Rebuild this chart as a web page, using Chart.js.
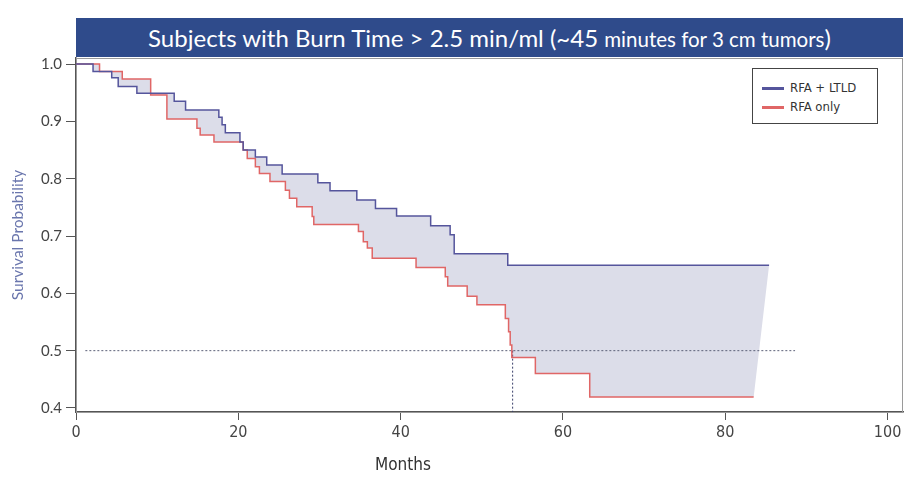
<!DOCTYPE html>
<html>
<head>
<meta charset="utf-8">
<script src="https://cdn.jsdelivr.net/npm/chart.js@4/dist/chart.umd.min.js"></script>
<style>
  html, body { margin:0; padding:0; background:#fff; }
  #wrap { position:relative; width:906px; height:480px; overflow:hidden; }
  #title { position:absolute; left:76px; top:18px; width:827px; height:39px; background:#2f4b8b;
           color:#fff; font-family:Lato, "Open Sans", sans-serif; text-align:center; line-height:39px;
           white-space:nowrap; font-size:24px; }
  #title .small { font-size:20.5px; }
  #legend { position:absolute; left:752px; top:68px; width:124px; height:54px; border:1px solid #444;
            background:#fff; font-family:"Liberation Sans Narrow","DejaVu Sans Condensed",sans-serif;
            font-size:13px; color:#333; }
  .row { position:absolute; left:9px; height:14px; line-height:14px; }
  .sw { display:inline-block; width:22px; height:2.5px; vertical-align:middle; margin-right:6px; }
  #xtitle { position:absolute; left:353px; top:454px; width:100px; text-align:center;
            font-family:"Liberation Sans Narrow","DejaVu Sans Condensed",sans-serif; font-size:17px; color:#333; }
</style>
</head>
<body>
<div id="wrap">
  <canvas id="c" width="906" height="480"></canvas>
  <div id="title">Subjects with Burn Time &gt; 2.5 min/ml (~45 <span class="small">minutes for 3 cm tumors</span>)</div>
  <div id="legend">
    <div class="row" style="top:12px"><span class="sw" style="background:#55559c"></span>RFA + LTLD</div>
    <div class="row" style="top:31px"><span class="sw" style="background:#e06666"></span>RFA only</div>
  </div>
  <div id="xtitle">Months</div>
</div>
<script>
// ---- data ----
const monthsLTLD = [0, 2.1, 4.4, 5.2, 7.5, 12.1, 13.5, 17.6, 18.0, 18.4, 20.2, 20.6, 22.1, 23.5, 25.4, 29.8, 31.3, 34.6, 36.9, 39.5, 43.7, 46.1, 46.6, 53.2, 85.4];
const survLTLD   = [1.0, 0.987, 0.976, 0.961, 0.949, 0.935, 0.920, 0.907, 0.894, 0.880, 0.864, 0.850, 0.838, 0.824, 0.808, 0.793, 0.779, 0.763, 0.748, 0.735, 0.718, 0.702, 0.669, 0.649, 0.649];
const monthsRFA  = [0, 2.9, 5.7, 9.2, 11.2, 14.9, 15.3, 17.0, 20.6, 21.1, 22.1, 22.6, 23.9, 25.8, 26.3, 27.2, 29.1, 29.3, 34.8, 35.4, 35.9, 36.5, 41.9, 45.5, 45.8, 48.2, 49.4, 52.9, 53.3, 53.5, 53.7, 56.6, 63.3, 83.5];
const survRFA    = [1.0, 0.987, 0.974, 0.946, 0.904, 0.888, 0.876, 0.864, 0.850, 0.835, 0.821, 0.809, 0.795, 0.780, 0.766, 0.751, 0.734, 0.720, 0.708, 0.690, 0.679, 0.661, 0.645, 0.629, 0.613, 0.595, 0.580, 0.556, 0.533, 0.510, 0.488, 0.460, 0.419, 0.419];
const halfLineX  = [1.15, 88.6];
const halfLineY  = [0.5, 0.5];
const medianX    = [53.8, 53.8];
const medianY    = [0.5, 0.393];
const xTicks     = [0, 20, 40, 60, 80, 100];
const yTicks     = [0.4, 0.5, 0.6, 0.7, 0.8, 0.9, 1.0];
const seriesNames = ['RFA + LTLD', 'RFA only'];

const pts = (xs, ys) => xs.map((x, i) => ({x: x, y: ys[i]}));
// expand a Kaplan-Meier step curve into its corner points
const corners = (xs, ys) => {
  const out = [];
  xs.forEach((x, i) => { if (i > 0) out.push({x: x, y: ys[i - 1]}); out.push({x: x, y: ys[i]}); });
  return out;
};
// shaded band: LTLD curve forward, RFA curve back, closed shape
const band = corners(monthsLTLD, survLTLD).concat(corners(monthsRFA, survRFA).reverse());

const narrow = '"Liberation Sans Narrow","DejaVu Sans Condensed",sans-serif';

const framePlugin = {
  id: 'frame',
  beforeDatasetsDraw(chart) {
    const a = chart.chartArea, ctx = chart.ctx;
    ctx.save();
    ctx.strokeStyle = '#9a9a9a';
    ctx.lineWidth = 1;
    ctx.strokeRect(a.left + 0.5, a.top + 0.5, a.right - a.left - 1, a.bottom - a.top);
    ctx.restore();
  }
};

new Chart(document.getElementById('c'), {
  type: 'line',
  data: {
    datasets: [
      { label: seriesNames[0], data: pts(monthsLTLD, survLTLD), stepped: true, borderColor: '#55559c',
        borderWidth: 1.5, pointRadius: 0, fill: false },
      { label: seriesNames[1], data: pts(monthsRFA, survRFA), stepped: true, borderColor: '#e06666',
        borderWidth: 1.5, pointRadius: 0, fill: false },
      { label: 'half', data: pts(halfLineX, halfLineY), borderColor: '#5c6078', borderWidth: 1,
        borderDash: [2, 2], pointRadius: 0, fill: false },
      { label: 'median', data: pts(medianX, medianY), borderColor: '#3a3f6a', borderWidth: 1,
        borderDash: [2, 2], pointRadius: 0, fill: false },
      { label: 'band', data: band, borderWidth: 0, borderColor: 'rgba(0,0,0,0)', pointRadius: 0,
        fill: 'shape', backgroundColor: '#dcdde9' }
    ]
  },
  options: {
    responsive: false,
    animation: false,
    layout: { padding: { top: 58, right: 3, left: 0, bottom: 0 } },
    plugins: { legend: { display: false }, tooltip: { enabled: false }, filler: { drawTime: 'beforeDatasetsDraw' } },
    scales: {
      x: {
        type: 'linear', min: 0, max: 101.9,
        afterFit(s) { s.height = 68; },
        afterBuildTicks(s) { s.ticks = xTicks.map(v => ({ value: v })); },
        grid: { drawOnChartArea: false, tickLength: 8, color: '#555' },
        border: { color: '#555', width: 1.5 },
        ticks: { font: { family: narrow, size: 16 }, color: '#444', padding: 3, maxRotation: 0 }
      },
      y: {
        type: 'linear', min: 0.393, max: 1.0105,
        afterFit(s) { s.width = 76; },
        afterBuildTicks(s) { s.ticks = yTicks.map(v => ({ value: v })); },
        grid: { drawOnChartArea: false, tickLength: 10, color: '#555' },
        border: { color: '#555', width: 1.5 },
        ticks: { font: { family: 'Lato, sans-serif', size: 15 }, color: '#444', padding: 4,
                 callback: v => v.toFixed(1) },
        title: { display: true, text: 'Survival Probability', color: '#6a76ad',
                 font: { family: 'Lato, sans-serif', size: 15.5 }, padding: { top: 9, bottom: 0 } }
      }
    }
  },
  plugins: [framePlugin]
});
</script>
</body>
</html>
